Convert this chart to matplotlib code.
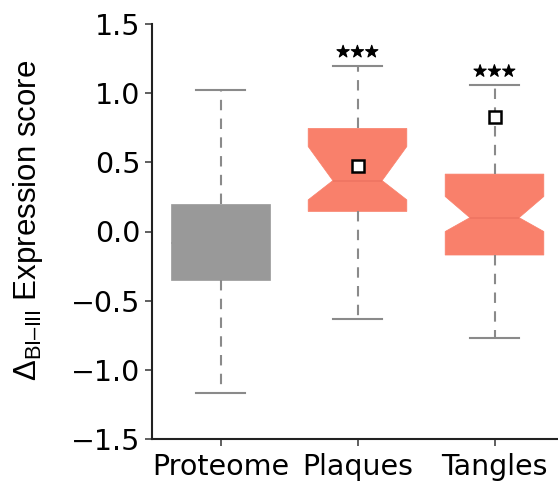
import matplotlib
matplotlib.use("Agg")
import matplotlib.pyplot as plt
import matplotlib.patheffects as pe

# Summary statistics for each group
categories = ["Proteome", "Plaques", "Tangles"]
q1 = [-0.35, 0.145, -0.17]
q3 = [0.20, 0.745, 0.415]
medians = [-0.08, 0.368, 0.10]
whislo = [-1.17, -0.63, -0.77]
whishi = [1.02, 1.20, 1.06]
ci_lo = [None, 0.229, 0.0]
ci_hi = [None, 0.614, 0.253]
means = [None, 0.47, 0.825]
significance = ["", "\u2605\u2605\u2605", "\u2605\u2605\u2605"]
yticks = [-1.5, -1.0, -0.5, 0.0, 0.5, 1.0, 1.5]

box_colors = ["#999999", "#F9806B", "#F9806B"]
median_colors = ["#999999", "#EF7462", "#EF7462"]

plt.rcParams["mathtext.fontset"] = "custom"
plt.rcParams["mathtext.rm"] = "Liberation Sans"
plt.rcParams["mathtext.sf"] = "Liberation Sans"

fig = plt.figure(figsize=(5.58, 4.88), dpi=100)
ax = fig.add_axes([152 / 558, 49 / 488, 411 / 558, 415 / 488])

positions = [1, 2, 3]
for i, cat in enumerate(categories):
    stat = dict(label=cat, q1=q1[i], q3=q3[i], med=medians[i],
                whislo=whislo[i], whishi=whishi[i], fliers=[])
    notch = ci_lo[i] is not None
    if notch:
        stat["cilo"] = ci_lo[i]
        stat["cihi"] = ci_hi[i]
    if means[i] is not None:
        stat["mean"] = means[i]
    ax.bxp([stat], positions=[positions[i]], widths=0.72, capwidths=0.36,
           shownotches=notch, showmeans=means[i] is not None,
           patch_artist=True, showfliers=False,
           boxprops=dict(facecolor=box_colors[i], edgecolor=box_colors[i], linewidth=0.5),
           medianprops=dict(color=median_colors[i], linewidth=1.2),
           whiskerprops=dict(color="#8a8a8a", linewidth=1.5, linestyle=(0, (5, 4))),
           capprops=dict(color="#8a8a8a", linewidth=1.5),
           meanprops=dict(marker="s", markerfacecolor="white",
                          markeredgecolor="black", markersize=8,
                          markeredgewidth=1.8))
    if significance[i]:
        ax.text(positions[i], whishi[i] + 0.095, significance[i],
                ha="center", va="center", fontsize=11.5,
                family="DejaVu Sans", color="black",
                path_effects=[pe.withStroke(linewidth=0.8, foreground="black")])

ax.set_xlim(0.5, 3.5)
ax.set_ylim(-1.5, 1.5)
ax.set_xticks(positions)
ax.set_xticklabels(categories)
ax.set_yticks(yticks)
ax.set_yticklabels([f"{v:.1f}".replace("-", "\u2212") for v in yticks])
ax.tick_params(axis="both", labelsize=20.5, length=5, width=1.2, color="#444444")
ax.tick_params(axis="x", pad=5)

for side in ("top", "right"):
    ax.spines[side].set_visible(False)
for side in ("left", "bottom"):
    ax.spines[side].set_linewidth(1.5)
    ax.spines[side].set_color("#222222")

ax.set_ylabel("\u0394$_{\\mathsf{BI\u2013III}}$ Expression score",
              fontsize=22.5, family="Liberation Sans", va="center")
ax.yaxis.set_label_coords(-124 / 411, (439 - 220) / 415)

fig.savefig("out.png", dpi=100)
